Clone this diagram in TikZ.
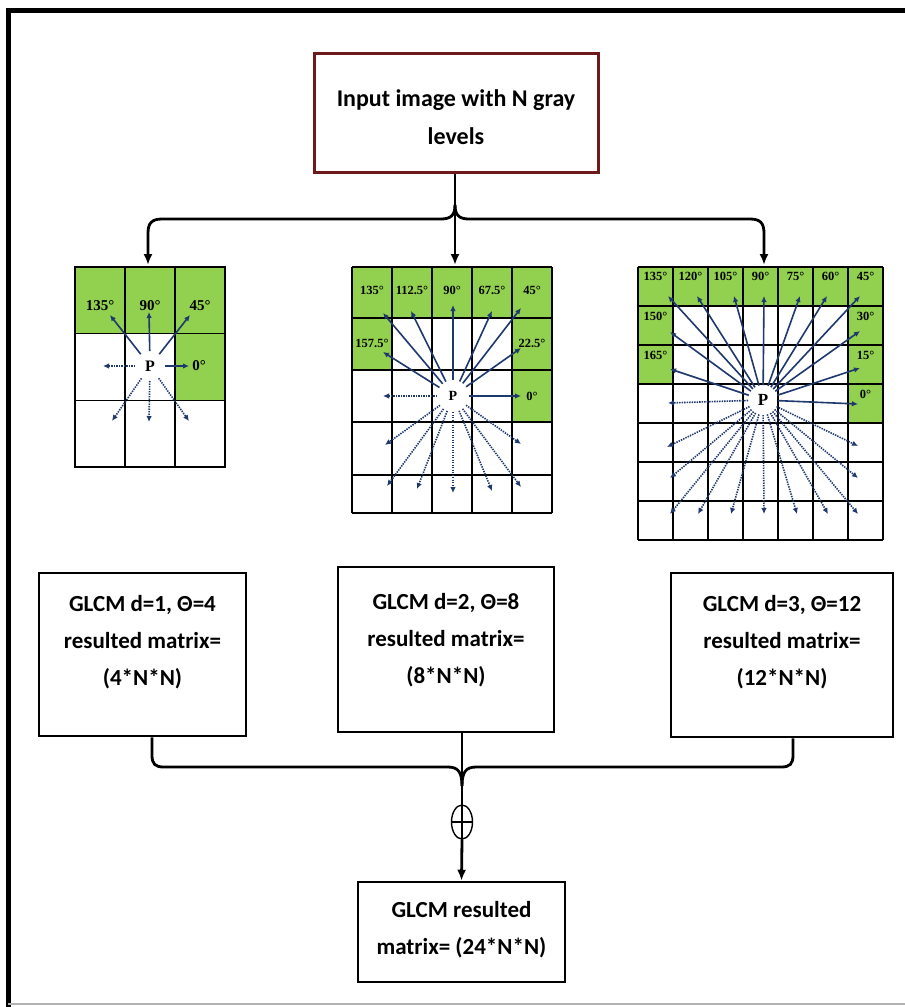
\documentclass[tikz,border=0pt]{standalone}
\usepackage{fontspec}
\setmainfont{Carlito}
\newfontfamily\tnr{Liberation Serif}
\usetikzlibrary{arrows.meta,calc,shapes.geometric}
\definecolor{cellgreen}{RGB}{146,208,80}
\definecolor{arrblue}{RGB}{31,56,110}
\definecolor{boxred}{RGB}{110,26,26}
\begin{document}
\begin{tikzpicture}[x=1pt,y=-1pt,
  cell/.style={draw=black,line width=1.5pt},
  sarr/.style={draw=arrblue,line width=1.6pt,-{Latex[length=6pt,width=5.5pt]}},
  darr/.style={sarr,dash pattern=on 1.4pt off 1.1pt},
  conn/.style={draw=black,line width=2.8pt},
  tipd/.style={-{Latex[length=11pt,width=9pt]}},
  box/.style={draw=black,line width=2.5pt,fill=white,inner sep=0pt},
  txt/.style={font=\bfseries\fontsize{23}{37}\selectfont,align=center,inner sep=0pt},
  degA/.style={font=\tnr\bfseries\fontsize{15}{15}\selectfont,inner sep=0pt},
  degB/.style={font=\tnr\bfseries\fontsize{12.5}{12.5}\selectfont,inner sep=0pt},
  degC/.style={font=\tnr\bfseries\fontsize{12.5}{12.5}\selectfont,inner sep=0pt},
  pnode/.style={font=\tnr\bfseries,inner sep=0pt}
]
\useasboundingbox (0,0) rectangle (905,1007);
\fill[white] (0,0) rectangle (905,1007);
% frame
\draw[line width=5pt] (8,1012) -- (8,10) -- (912,10);
\draw[gray!60,line width=1.5pt] (8,1004) -- (912,1004);

% top box
\node[draw=boxred,line width=3pt,minimum width=284pt,minimum height=119pt,inner sep=0pt] (in) at (456,112.5) {};
\node[txt,font=\bfseries\fontsize{24}{38}\selectfont] (intxt) at (456,117) {Input image with N gray\\levels};

% ---------- left grid ----------
\fill[cellgreen] (75,267) rectangle (225,333.67);
\fill[cellgreen] (175,333.67) rectangle (225,400.33);
\foreach \c in {0,1,2}{\foreach \r in {0,1,2}{
  \draw[cell] ({75+50*\c},{267+66.67*\r}) rectangle ++(50,66.67);}}
\coordinate (gA) at (148,265);
\node[pnode,font=\tnr\bfseries\fontsize{16}{16}\selectfont] (pL) at (150,366) {P};
\node[degA] (a135) at (100,306) {135°};
\node[degA] (a90) at (150,306) {90°};
\node[degA] (a45) at (200,306) {45°};
\node[degA] (a0) at (199,366) {0°};
\foreach \x/\y in {110/315,149/312,190/315,189/366}
  \draw[sarr] ($(pL)!15pt!(\x,\y)$) -- (\x,\y);
\foreach \x/\y in {103/366,112/421,149/422,189/421}
  \draw[darr] ($(pL)!15pt!(\x,\y)$) -- (\x,\y);

% ---------- middle grid ----------
\fill[cellgreen] (352,267) rectangle (552,318);
\fill[cellgreen] (352,318) rectangle (392,370);
\fill[cellgreen] (512,318) rectangle (552,422);
\foreach \yy in {267,318,370,422,475,513} \draw[cell] (352,\yy) -- (552,\yy);
\foreach \xx in {352,392,432,472,512,552} \draw[cell] (\xx,267) -- (\xx,513);
\coordinate (gB) at (455,265);
\node[pnode,font=\tnr\bfseries\fontsize{14}{14}\selectfont] (pM) at (453,396) {P};
\foreach \x/\t in {372/135°,412/112.5°,452/90°,492/67.5°,532/45°}
  \node[degB] at (\x,290) {\t};
\node[degB] (b157) at (372,343) {157.5°};
\node[degB] (b22) at (532,343) {22.5°};
\node[degB] (b0) at (532,396) {0°};
\foreach \x/\y in {383/313,411/311,453/305,492/311,521/308,383/352,521/348,521/396}
  \draw[sarr] ($(pM)!16pt!(\x,\y)$) -- (\x,\y);
\foreach \x/\y in {383/396,385/445,521/444,387/486,417/489,453/493,492/491,521/487}
  \draw[darr] ($(pM)!16pt!(\x,\y)$) -- (\x,\y);

% ---------- right grid ----------
\fill[cellgreen] (638,267) rectangle (883,306);
\fill[cellgreen] (638,306) rectangle (673,384);
\fill[cellgreen] (848,306) rectangle (883,423);
\foreach \k in {0,...,7}{
  \draw[cell] ({638+35*\k},267) -- ++(0,273);
  \draw[cell] (638,{267+39*\k}) -- ++(245,0);}
\coordinate (gC) at (764,265);
\node[pnode,font=\tnr\bfseries\fontsize{17}{17}\selectfont] (pR) at (763,400) {P};
\foreach \k/\t in {0/135°,1/120°,2/105°,3/90°,4/75°,5/60°,6/45°}
  \node[degC] at ({655.5+35*\k},276) {\t};
\node[degC] (c150) at (655.5,316) {150°};
\node[degC] (c30) at (865.5,316) {30°};
\node[degC] (c165) at (655.5,355) {165°};
\node[degC] (c15) at (865.5,355) {15°};
\node[degC] (c0) at (865.5,394) {0°};
\foreach \x/\y in {668/296,697/296,734/296,764/296,800/296,827/296,860/296,670/332,860/331,670/369,860/368,858/404}
  \draw[sarr] ($(pR)!15pt!(\x,\y)$) -- (\x,\y);
\foreach \x/\y in {668/403,667/447,858/446,670/478,858/478,670/514,698/514,731/514,764/514,797/514,828/514,858/514}
  \draw[darr] ($(pR)!15pt!(\x,\y)$) -- (\x,\y);

% ---------- top connectors ----------
\coordinate (jt) at (455,205);
\draw[conn,tipd] (in.south -| jt) -- (gB);
\draw[conn,tipd] (jt) .. controls (455,215) and (451,219) .. (441,219) -- (162,219)
   .. controls (152,219) and (148,223) .. (148,233) -- (gA);
\draw[conn,tipd] (jt) .. controls (455,215) and (459,219) .. (469,219) -- (750,219)
   .. controls (760,219) and (764,223) .. (764,233) -- (gC);

% ---------- result boxes ----------
\node[box,minimum width=207pt,minimum height=163pt] (b1) at (142.5,654.5) {};
\node[txt] (t1) at (142.5,642) {GLCM d=1, Θ=4\\resulted matrix=\\(4*N*N)};
\node[box,minimum width=216pt,minimum height=165pt] (b2) at (446,649.5) {};
\node[txt] (t2) at (446,640) {GLCM d=2, Θ=8\\resulted matrix=\\(8*N*N)};
\node[box,minimum width=222pt,minimum height=164pt] (b3) at (782,655) {};
\node[txt] (t3) at (782,642) {GLCM d=3, Θ=12\\resulted matrix=\\(12*N*N)};

% ---------- bottom connectors ----------
\node[draw,ellipse,line width=1.4pt,minimum width=21pt,minimum height=34pt,inner sep=0pt] (op) at (462,822) {};
\draw[line width=1.4pt] (op.north) -- (op.south) (op.west) -- (op.east);
\coordinate (jb) at (462,786);
\draw[conn] (b1.south -| 152,0) -- (152,755) .. controls (152,764) and (155,767) .. (164,767)
   -- (448,767) .. controls (458,767) and (462,772) .. (jb);
\draw[conn] (b3.south -| 793,0) -- (793,755) .. controls (793,764) and (790,767) .. (781,767)
   -- (476,767) .. controls (466,767) and (462,772) .. (jb);
\draw[conn] (b2.south -| jb) -- (op.north);

\node[box,minimum width=207pt,minimum height=100pt] (bot) at (461.5,932) {};
\node[txt] (tb) at (461.5,930) {GLCM resulted\\matrix= (24*N*N)};
\draw[conn,tipd] (op.south) -- (bot.north);
\end{tikzpicture}
\end{document}
